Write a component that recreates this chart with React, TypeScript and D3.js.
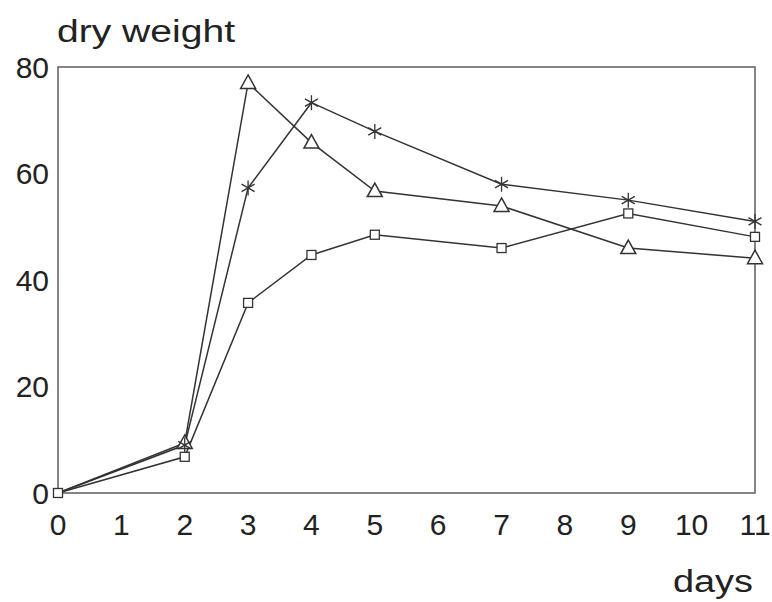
import React from "react";
import * as d3 from "d3";

const days = [0, 2, 3, 4, 5, 7, 9, 11];
const triangleSeries = [0, 9.4, 77, 65.8, 56.7, 53.9, 46, 44.1];
const starSeries = [0, 9, 57.3, 73.3, 67.9, 58, 55, 51];
const squareSeries = [0, 6.8, 35.7, 44.7, 48.5, 46, 52.5, 48.1];
const xTicks = [0, 1, 2, 3, 4, 5, 6, 7, 8, 9, 10, 11];
const yTicks = [0, 20, 40, 60, 80];

const W = 772;
const H = 602;
const left = 58;
const right = 755;
const top = 67;
const bottom = 493;

export default function App() {
  const x = d3.scaleLinear().domain([0, 11]).range([left, right]);
  const y = d3.scaleLinear().domain([0, 80]).range([bottom, top]);
  const line = d3
    .line<number>()
    .x((_, i) => x(days[i]))
    .y((d) => y(d));
  const stroke = "#333";
  const font = "'Liberation Sans', Arial, Helvetica, sans-serif";
  const textColor = "#222";

  const tri = (cx: number, cy: number, k: number) => {
    const s = 7.5;
    const p = `M${cx},${cy - 8}L${cx + s},${cy + 5.5}L${cx - s},${cy + 5.5}Z`;
    return <path key={k} d={p} fill="white" stroke={stroke} strokeWidth={1.5} />;
  };
  const sq = (cx: number, cy: number, k: number) => (
    <rect key={k} x={cx - 4.5} y={cy - 4.5} width={9} height={9} fill="white" stroke={stroke} strokeWidth={1.3} />
  );
  const star = (cx: number, cy: number, k: number) => {
    const r = 7.5;
    const segs = [0, 60, 120].map((a) => {
      const rad = ((a + 90) * Math.PI) / 180;
      const dx = r * Math.cos(rad);
      const dy = r * Math.sin(rad);
      return `M${cx - dx},${cy - dy}L${cx + dx},${cy + dy}`;
    });
    return <path key={k} d={segs.join("")} fill="none" stroke={stroke} strokeWidth={1.3} />;
  };

  return (
    <svg width={W} height={H} style={{ position: "absolute", left: 0, top: 0, background: "white" }}>
      <rect x={left} y={top} width={right - left} height={bottom - top} fill="none" stroke="#666" strokeWidth={1.6} />
      <text x={57} y={42} fontFamily={font} fontSize={31} textLength={178} lengthAdjust="spacingAndGlyphs" fill={textColor}>dry weight</text>
      <text x={673} y={592} fontFamily={font} fontSize={31} textLength={80} lengthAdjust="spacingAndGlyphs" fill={textColor}>days</text>
      {yTicks.map((t) => (
        <text key={t} x={49} y={y(t)} dy="0.36em" textAnchor="end" fontFamily={font} fontSize={30} fill={textColor}>
          {t}
        </text>
      ))}
      {xTicks.map((t) => (
        <text key={t} x={x(t)} y={535} textAnchor="middle" fontFamily={font} fontSize={30} fill={textColor}>
          {t}
        </text>
      ))}
      <path d={line(squareSeries) || ""} fill="none" stroke={stroke} strokeWidth={1.5} />
      <path d={line(triangleSeries) || ""} fill="none" stroke={stroke} strokeWidth={1.5} />
      <path d={line(starSeries) || ""} fill="none" stroke={stroke} strokeWidth={1.5} />
      {squareSeries.map((v, i) => sq(x(days[i]), y(v), i))}
      {triangleSeries.map((v, i) => (i === 0 ? null : tri(x(days[i]), y(v), i)))}
      {starSeries.map((v, i) => (i === 0 ? null : star(x(days[i]), y(v), i)))}
    </svg>
  );
}
